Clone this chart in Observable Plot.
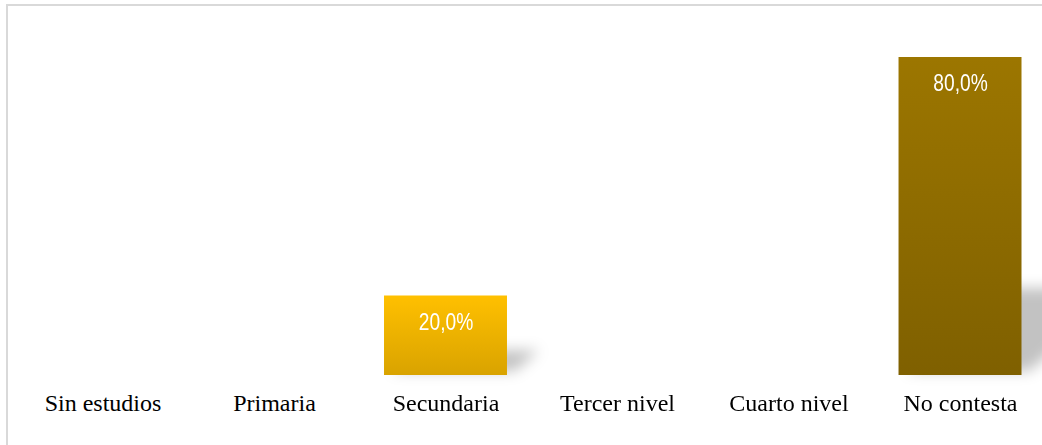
<!DOCTYPE html>
<html>
<head>
<meta charset="utf-8">
<script src="https://cdn.jsdelivr.net/npm/d3@7"></script>
<script src="https://cdn.jsdelivr.net/npm/@observablehq/plot@0.6"></script>
<style>
  html, body { margin: 0; padding: 0; background: #fff; overflow: hidden; }
  #wrap { position: relative; width: 1042px; height: 445px; overflow: hidden; }
  #border { position: absolute; left: 6px; top: 4px; width: 1100px; height: 600px;
            border-left: 2px solid #d9d9d9; border-top: 2px solid #d9d9d9; box-sizing: border-box; }
  #chart { position: absolute; left: 0; top: 0; }
</style>
</head>
<body>
<div id="wrap"><div id="border"></div><div id="chart"></div></div>
<script>
const categories = ["Sin estudios", "Primaria", "Secundaria", "Tercer nivel", "Cuarto nivel", "No contesta"];
const values = [0, 0, 0.20, 0, 0, 0.80];
const valueLabels = ["", "", "20,0%", "", "", "80,0%"];

const data = categories.map((c, i) => ({category: c, value: values[i], label: valueLabels[i]}));
const shown = data.filter(d => d.value > 0);

// gradient styles per category
const gradients = {
  "Secundaria": ["#ffc000", "#d9a300"],
  "No contesta": ["#9c7600", "#7f6000"]
};
const gradId = c => "grad-" + categories.indexOf(c);

const chart = Plot.plot({
  width: 1042,
  height: 445,
  marginTop: 57,
  marginBottom: 70,
  marginLeft: 41,
  marginRight: 20.5,
  x: {domain: categories, paddingInner: 0.283, paddingOuter: 0, round: false, label: null},
  y: {domain: [0, 0.8], axis: null},
  color: {type: "identity"},
  marks: [
    Plot.barY(shown, {x: "category", y: "value", fill: "#000", fillOpacity: 0.24}),
    Plot.barY(shown, {x: "category", y: "value", fill: d => `url(#${gradId(d.category)})`}),
    Plot.text(shown, {x: "category", y: "value", text: "label", dy: 26, fill: "#fff",
      fontSize: 24, fontFamily: "'Liberation Sans', Arial, sans-serif", lineAnchor: "middle"}),
    Plot.axisX({tickSize: 0, tickPadding: 18, fontSize: 24, fontFamily: "'Liberation Serif', 'Times New Roman', serif", fill: "#000", label: null})
  ]
});

const svg = d3.select(chart);
svg.style("font-family", "'Liberation Serif', serif").style("overflow", "visible");
const defs = svg.insert("defs", ":first-child");
categories.forEach((c, i) => {
  if (!gradients[c]) return;
  const g = defs.append("linearGradient").attr("id", "grad-" + i)
    .attr("x1", 0).attr("y1", 0).attr("x2", 0).attr("y2", 1);
  g.append("stop").attr("offset", "0%").attr("stop-color", gradients[c][0]);
  g.append("stop").attr("offset", "100%").attr("stop-color", gradients[c][1]);
});
const f = defs.append("filter").attr("id", "shadowBlur")
  .attr("x", "-50%").attr("y", "-50%").attr("width", "200%").attr("height", "200%");
f.append("feGaussianBlur").attr("stdDeviation", 7);

// perspective shadow: squash & skew the first bar layer around its baseline
const shadowGroup = svg.selectAll("g[aria-label='bar']").nodes()[0];
d3.select(shadowGroup).attr("filter", "url(#shadowBlur)");
d3.select(shadowGroup).selectAll("rect").each(function() {
  const r = d3.select(this);
  const y = +r.attr("y"), h = +r.attr("height");
  const b = y + h;
  r.attr("transform", `translate(8,${b - 4}) matrix(1,0,-0.3,0.26,0,0) translate(0,${-b})`);
});

// condensed look for the value labels
svg.selectAll("g[aria-label='text'] text").each(function() {
  const t = d3.select(this);
  const tr = t.attr("transform") || "";
  t.attr("transform", tr + " scale(0.8,1)");
});

document.getElementById("chart").appendChild(chart);
</script>
</body>
</html>
